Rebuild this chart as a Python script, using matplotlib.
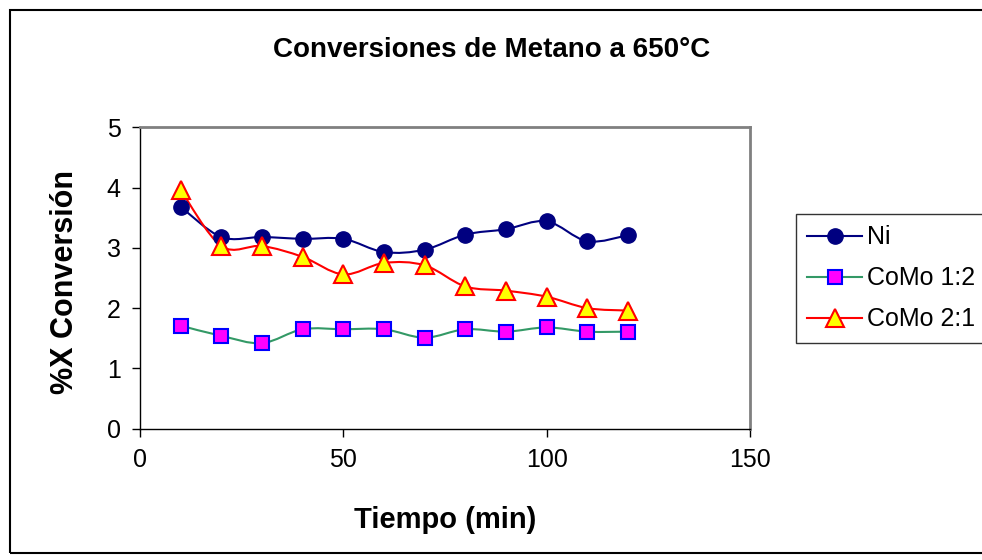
import numpy as np
import matplotlib.pyplot as plt
from matplotlib.path import Path
from matplotlib.patches import PathPatch, Rectangle
from matplotlib.lines import Line2D

plt.rcParams['font.family'] = ['Liberation Sans', 'DejaVu Sans']

# Data
tiempo = [10, 20, 30, 40, 50, 60, 70, 80, 90, 100, 110, 120]
ni = [3.68, 3.18, 3.18, 3.15, 3.15, 2.93, 2.97, 3.22, 3.31, 3.44, 3.11, 3.21]
como_12 = [1.71, 1.54, 1.42, 1.65, 1.65, 1.65, 1.51, 1.65, 1.61, 1.68, 1.61, 1.61]
como_21 = [3.96, 3.03, 3.03, 2.85, 2.56, 2.75, 2.71, 2.36, 2.29, 2.19, 2.00, 1.96]
labels = ['Ni', 'CoMo 1:2', 'CoMo 2:1']


def smooth_path(x, y):
    # Excel-style smoothed line: cubic Bezier through the points
    x = np.asarray(x, float)
    y = np.asarray(y, float)
    verts = [(x[0], y[0])]
    codes = [Path.MOVETO]
    n = len(x)
    for i in range(n - 1):
        x0, y0 = (x[i - 1], y[i - 1]) if i > 0 else (x[i], y[i])
        x3, y3 = (x[i + 2], y[i + 2]) if i + 2 < n else (x[i + 1], y[i + 1])
        c1 = (x[i] + (x[i + 1] - x0) / 6, y[i] + (y[i + 1] - y0) / 6)
        c2 = (x[i + 1] - (x3 - x[i]) / 6, y[i + 1] - (y3 - y[i]) / 6)
        verts += [c1, c2, (x[i + 1], y[i + 1])]
        codes += [Path.CURVE4] * 3
    return Path(verts, codes)


fig = plt.figure(figsize=(9.82, 5.6), dpi=100)
ax = fig.add_axes([140 / 982, 1 - 428.7 / 560, 610 / 982, 301.4 / 560])

styles = [
    dict(color='#000080', marker='o', ms=11, mfc='#000080', mec='#000080', mew=1),
    dict(color='#339966', marker='s', ms=10, mfc='#FF00FF', mec='#0000FF', mew=1.5),
    dict(color='#FF0000', marker='^', ms=13, mfc='#FFFF00', mec='#FF0000', mew=1.5),
]
handles = []
for yv, st, lab in zip([ni, como_12, como_21], styles, labels):
    ax.add_patch(PathPatch(smooth_path(tiempo, yv), fill=False,
                           edgecolor=st['color'], lw=1.5, zorder=2))
    ax.plot(tiempo, yv, linestyle='none', marker=st['marker'], ms=st['ms'],
            mfc=st['mfc'], mec=st['mec'], mew=st['mew'], zorder=3)
    handles.append(Line2D([], [], color=st['color'], lw=1.5, marker=st['marker'],
                          ms=st['ms'], mfc=st['mfc'], mec=st['mec'], mew=st['mew']))

ax.set_xlim(0, 150)
ax.set_ylim(0, 5)
ax.set_xticks([0, 50, 100, 150])
ax.set_yticks([0, 1, 2, 3, 4, 5])
ax.tick_params(labelsize=18, length=6, width=1, direction='out', pad=8)
for s in ['top', 'right']:
    ax.spines[s].set_color('#808080')
    ax.spines[s].set_linewidth(2)
for s in ['left', 'bottom']:
    ax.spines[s].set_color('#000000')
    ax.spines[s].set_linewidth(1)

fig.text(492 / 982, 1 - 50 / 560, 'Conversiones de Metano a 650°C', ha='center',
         va='center', fontsize=20, fontweight='bold')
fig.text(65 / 982, 1 - 282 / 560, '%X Conversión', ha='center', va='center',
         rotation=90, fontsize=22, fontweight='bold')
fig.text(445 / 982, 1 - 520 / 560, 'Tiempo (min)', ha='center', va='center',
         fontsize=21, fontweight='bold')

leg = fig.legend(handles, labels, loc='upper left',
                 bbox_to_anchor=(796 / 982, 1 - 214 / 560), fontsize=18,
                 frameon=True, fancybox=False, handlelength=2.2,
                 handletextpad=0.2, borderpad=0.45, labelspacing=0.68,
                 borderaxespad=0)
leg.get_frame().set_edgecolor('#000000')
leg.get_frame().set_linewidth(1)

fig.patches.append(Rectangle((10 / 982, 1 - 553 / 560), 1.0, 543 / 560,
                             transform=fig.transFigure, fill=False,
                             edgecolor='#000000', lw=1.5, clip_on=False))

fig.savefig('out.png', dpi=100)
